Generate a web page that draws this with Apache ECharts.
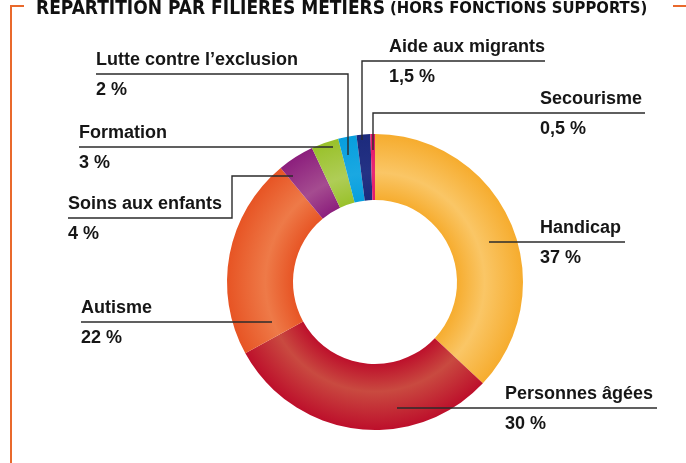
<!DOCTYPE html>
<html>
<head>
<meta charset="utf-8">
<title>Répartition par filières métiers</title>
<script src="https://cdn.jsdelivr.net/npm/echarts@6/dist/echarts.min.js"></script>
<style>
  html, body { margin: 0; padding: 0; background: #fff; }
  #main { width: 686px; height: 463px; }
</style>
</head>
<body>
<div id="main"></div>
<script>
// Données
var filieres = ['Handicap', 'Personnes âgées', 'Autisme', 'Soins aux enfants', 'Formation', 'Lutte contre l\u2019exclusion', 'Aide aux migrants', 'Secourisme'];
var parts = [37, 30, 22, 4, 3, 2, 1.5, 0.5];
var partsTexte = ['37 %', '30 %', '22 %', '4 %', '3 %', '2 %', '1,5 %', '0,5 %'];

// couleurs (bord, milieu de l'anneau)
var couleursBord = ['#F6AC2E', '#BD0F2B', '#E75424', '#8C1F7D', '#99C12A', '#079FDE', '#1C2A7C', '#E4176A'];
var couleursMilieu = ['#FAC666', '#C94A40', '#EE7A48', '#A54C90', '#AFCD57', '#1AA8E2', '#243285', '#E82A74'];

var centre = [375, 282];
var rayons = [82, 148];

// position des étiquettes : x du texte, y du trait, tracé du trait
var etiquettes = [
    {x: 540, uy: 242, line: [[489, 242], [540, 242], [625, 242]]},
    {x: 505, uy: 408, line: [[397, 408], [505, 408], [657, 408]]},
    {x: 81, uy: 322, line: [[272, 322], [150, 322], [81, 322]]},
    {x: 68, uy: 218, line: [[293, 176], [232, 176], [232, 218], [68, 218]]},
    {x: 79, uy: 147, line: [[333, 147], [200, 147], [79, 147]]},
    {x: 96, uy: 74, line: [[348, 155], [348, 74], [96, 74]]},
    {x: 389, uy: 61, line: [[362, 140], [362, 61], [545, 61]]},
    {x: 540, uy: 113, line: [[373, 150], [373, 113], [645, 113]]}
];

var police = '"Liberation Sans", Arial, sans-serif';
var policeTitre = '"Liberation Sans Narrow", "DejaVu Sans Condensed", "Liberation Sans", sans-serif';
var orange = '#E9692C';

function degrade(i) {
    return {
        type: 'radial', x: centre[0], y: centre[1], r: rayons[1], global: true,
        colorStops: [
            {offset: 0, color: couleursBord[i]},
            {offset: 0.55, color: couleursBord[i]},
            {offset: 0.74, color: couleursMilieu[i]},
            {offset: 1, color: couleursBord[i]}
        ]
    };
}

var donnees = filieres.map(function (nom, i) {
    return {name: nom, value: parts[i], itemStyle: {color: degrade(i)}};
});

// même données, secteurs transparents : sert seulement à dessiner étiquettes et traits au-dessus
var donneesEtiquettes = filieres.map(function (nom, i) {
    return {name: nom, value: parts[i]};
});

var chart = echarts.init(document.getElementById('main'));

var option = {
    backgroundColor: '#fff',
    animation: false,
    title: {
        left: 31,
        top: -8,
        text: '{a|RÉPARTITION PAR FILIÈRES MÉTIERS} {b|(HORS FONCTIONS SUPPORTS)}',
        textStyle: {
            rich: {
                a: {fontFamily: policeTitre, fontWeight: 'bold', fontSize: 19, color: '#111', lineHeight: 24},
                b: {fontFamily: policeTitre, fontWeight: 'bold', fontSize: 16.5, color: '#111', lineHeight: 24}
            }
        }
    },
    graphic: [
        {
            type: 'polyline',
            shape: {points: [[24, 6], [11, 6], [11, 463]]},
            style: {stroke: orange, lineWidth: 2, fill: null}
        },
        {
            type: 'line',
            shape: {x1: 673, y1: 6, x2: 686, y2: 6},
            style: {stroke: orange, lineWidth: 2}
        }
    ],
    series: [
        {
            type: 'pie',
            z: 2,
            center: centre,
            radius: rayons,
            startAngle: 90,
            clockwise: true,
            silent: true,
            data: donnees,
            label: {show: false},
            labelLine: {show: false}
        },
        {
            type: 'pie',
            z: 3,
            center: centre,
            radius: rayons,
            startAngle: 90,
            clockwise: true,
            avoidLabelOverlap: false,
            silent: true,
            data: donneesEtiquettes,
            itemStyle: {color: 'rgba(0,0,0,0)'},
            label: {
                show: true,
                position: 'outside',
                formatter: function (p) {
                    return '{n|' + p.name + '}\n{v|' + partsTexte[p.dataIndex] + '}';
                },
                rich: {
                    n: {fontFamily: police, fontWeight: 'bold', fontSize: 18, color: '#161616', lineHeight: 30},
                    v: {fontFamily: police, fontWeight: 'bold', fontSize: 18, color: '#161616', lineHeight: 30}
                }
            },
            labelLine: {
                show: true,
                smooth: false,
                lineStyle: {color: '#2b2b2b', width: 1.4}
            },
            labelLayout: function (params) {
                var e = etiquettes[params.dataIndex];
                return {
                    x: e.x,
                    y: e.uy - 29,
                    align: 'left',
                    verticalAlign: 'top',
                    labelLinePoints: e.line
                };
            }
        }
    ]
};

chart.setOption(option);
</script>
</body>
</html>
